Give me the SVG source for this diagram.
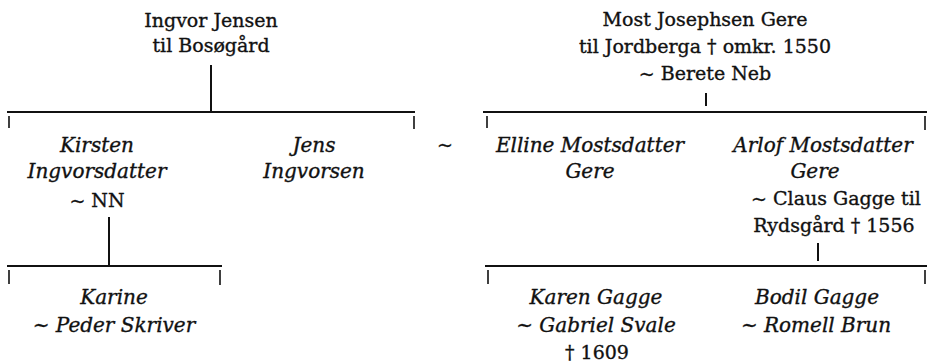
<svg xmlns="http://www.w3.org/2000/svg" width="927" height="364" viewBox="0 0 927 364">
<style>
text{font-family:"DejaVu Serif","Liberation Serif",serif;font-size:19px;fill:#111;stroke:#111;stroke-width:0.35;text-anchor:middle}
.i{font-style:italic;font-size:20px}
.ln{stroke:#111;stroke-width:2;fill:none}
.tk{stroke:#111;stroke-width:1.6;fill:none}
</style>
<rect width="927" height="364" fill="#fff"/>
<g id="connectors">
<path class="ln" d="M211 65V111M7 112H415M109 217V265M7 266H222M706 93V106M483 112H927M818 243V261M485 266H927"/>
<path class="tk" d="M9 116V128M414 116V129M9 270V284M220 270V285M487 116V128M925 116V130M488 270V284M925 270V284"/>
</g>
<g id="ingvor"><text x="211" y="27">Ingvor Jensen</text><text x="211" y="52">til Bosøgård</text></g>
<g id="most"><text x="705" y="26">Most Josephsen Gere</text><text x="705" y="53">til Jordberga † omkr. 1550</text><text x="705" y="80">~ Berete Neb</text></g>
<g id="kirsten"><text class="i" x="97" y="152">Kirsten</text><text class="i" x="97" y="178">Ingvorsdatter</text><text x="97" y="207">~ NN</text></g>
<g id="jens"><text class="i" x="314" y="152">Jens</text><text class="i" x="314" y="178">Ingvorsen</text></g>
<g id="marriage"><text x="445" y="151">~</text></g>
<g id="elline"><text class="i" x="590" y="152">Elline Mostsdatter</text><text class="i" x="590" y="178">Gere</text></g>
<g id="arlof"><text class="i" x="823" y="152">Arlof Mostsdatter</text><text class="i" x="815" y="178">Gere</text><text x="836" y="205">~ Claus Gagge til</text><text x="834" y="232">Rydsgård † 1556</text></g>
<g id="karine"><text class="i" x="114" y="304">Karine</text><text class="i" x="114" y="332">~ Peder Skriver</text></g>
<g id="karen"><text class="i" x="596" y="304">Karen Gagge</text><text class="i" x="596" y="332">~ Gabriel Svale</text><text x="597" y="359">† 1609</text></g>
<g id="bodil"><text class="i" x="817" y="304">Bodil Gagge</text><text class="i" x="816" y="332">~ Romell Brun</text></g>
</svg>
